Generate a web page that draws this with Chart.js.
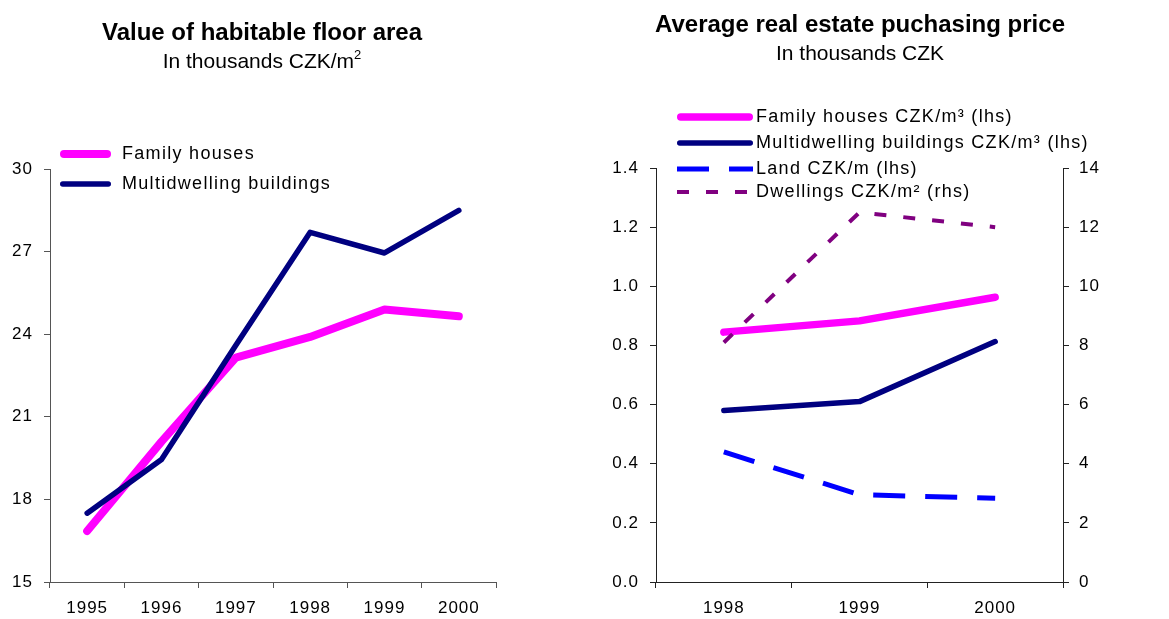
<!DOCTYPE html>
<html><head><meta charset="utf-8">
<script src="https://cdn.jsdelivr.net/npm/chart.js@4.4.0/dist/chart.umd.min.js"></script>
<style>
body{margin:0;background:#fff;width:1169px;height:619px;overflow:hidden;position:relative;font-family:"Liberation Sans",Arial,sans-serif;}
.t{position:absolute;text-align:center;white-space:nowrap;color:#000;}
#c1{position:absolute;left:0;top:0;}
#c2{position:absolute;left:580px;top:0;}
.sup{font-size:13px;position:relative;top:-9px;}
</style></head><body>
<canvas id="c1" width="580" height="619"></canvas>
<canvas id="c2" width="589" height="619"></canvas>
<div class="t" style="left:62px;width:400px;top:20px;font-size:24px;line-height:24px;font-weight:bold;">Value of habitable floor area</div>
<div class="t" style="left:62px;width:400px;top:50px;font-size:21px;line-height:21px;">In thousands CZK/m<span class="sup">2</span></div>
<div class="t" style="left:610px;width:500px;top:12px;font-size:24px;line-height:24px;font-weight:bold;">Average real estate puchasing price</div>
<div class="t" style="left:610px;width:500px;top:42px;font-size:21px;line-height:21px;">In thousands CZK</div>
<script>
// ---- data ----
const leftYears = ['1995','1996','1997','1998','1999','2000'];
const leftFamily = [16.85, 20.1, 23.15, 23.9, 24.9, 24.65];
const leftMulti = [17.5, 19.45, 23.6, 27.7, 26.95, 28.5];
const leftTicks = [15, 18, 21, 24, 27, 30];

const rightYears = ['1998','1999','2000'];
const rightFamily = [0.845, 0.883, 0.963];
const rightMulti = [0.58, 0.61, 0.813];
const rightLand = [0.44, 0.295, 0.283];
const rightDwell = [8.1, 12.5, 12.0];
const rightLeftTicks = [0, 0.2, 0.4, 0.6, 0.8, 1.0, 1.2, 1.4];
const rightRightTicks = [0, 2, 4, 6, 8, 10, 12, 14];

const FONT = '"Liberation Sans", Arial, sans-serif';

const spacingPlugin = {
  id: 'spacing',
  beforeDraw(chart){ chart.ctx.letterSpacing = '1px'; }
};

const legendPlugin = {
  id: 'customLegend',
  afterDraw(chart, args, opts){
    const ctx = chart.ctx;
    ctx.save();
    ctx.font = opts.font;
    ctx.letterSpacing = opts.letterSpacing;
    ctx.textBaseline = 'middle';
    ctx.fillStyle = '#000';
    chart.data.datasets.forEach((ds, i) => {
      const y = opts.ys[i];
      ctx.beginPath();
      ctx.strokeStyle = ds.borderColor;
      ctx.lineWidth = ds.borderWidth;
      ctx.setLineDash(ds.borderDash || []);
      const cap = ds.borderCapStyle || 'butt';
      ctx.lineCap = cap;
      const inset = cap === 'round' ? ds.borderWidth / 2 : 0;
      ctx.moveTo(opts.x0 + inset, y);
      ctx.lineTo(opts.x1 - inset, y);
      ctx.stroke();
      ctx.setLineDash([]);
      ctx.fillText(ds.label, opts.tx, y);
    });
    ctx.restore();
  }
};

function axisX(color){
  return {
    type: 'category', offset: true,
    grid: { display: true, drawOnChartArea: false, drawTicks: true, tickLength: 6, color: color, offset: true },
    border: { display: true, color: color, width: 1 },
    ticks: { font: { family: FONT, size: 17 }, color: '#000', padding: 10, maxRotation: 0, autoSkip: false },
    afterFit(s){ s.height = 37; }
  };
}

new Chart(document.getElementById('c1'), {
  type: 'line',
  data: {
    labels: leftYears,
    datasets: [
      { label: 'Family houses', data: leftFamily, borderColor: '#FF00FF', borderWidth: 8, borderCapStyle: 'round', borderJoinStyle: 'round', pointRadius: 0, order: 2 },
      { label: 'Multidwelling buildings', data: leftMulti, borderColor: '#000080', borderWidth: 5.5, borderCapStyle: 'round', borderJoinStyle: 'round', pointRadius: 0, order: 1 }
    ]
  },
  options: {
    responsive: false, animation: false, events: [],
    layout: { padding: { left: 0, top: 169, right: 84, bottom: 0 } },
    plugins: {
      legend: { display: false }, tooltip: { enabled: false },
      customLegend: { font: '18px ' + FONT, letterSpacing: '1.3px', x0: 60, x1: 111, tx: 122, ys: [154, 184] }
    },
    scales: {
      x: axisX('#555'),
      y: {
        min: 15, max: 30,
        afterBuildTicks(s){ s.ticks = leftTicks.map(v => ({ value: v })); },
        grid: { display: true, drawOnChartArea: false, drawTicks: true, tickLength: 6, color: '#555' },
        border: { display: true, color: '#555', width: 1 },
        ticks: { font: { family: FONT, size: 17 }, color: '#000', padding: 11 },
        afterFit(s){ s.width = 50; }
      }
    }
  },
  plugins: [spacingPlugin, legendPlugin]
});

new Chart(document.getElementById('c2'), {
  type: 'line',
  data: {
    labels: rightYears,
    datasets: [
      { label: 'Family houses CZK/m³ (lhs)', data: rightFamily, yAxisID: 'y', borderColor: '#FF00FF', borderWidth: 7.5, borderCapStyle: 'round', borderJoinStyle: 'round', pointRadius: 0, order: 4 },
      { label: 'Multidwelling buildings CZK/m³ (lhs)', data: rightMulti, yAxisID: 'y', borderColor: '#000080', borderWidth: 5.5, borderCapStyle: 'round', borderJoinStyle: 'round', pointRadius: 0, order: 3 },
      { label: 'Land CZK/m (lhs)', data: rightLand, yAxisID: 'y', borderColor: '#0000FF', borderWidth: 5, borderDash: [32, 20], borderCapStyle: 'butt', pointRadius: 0, order: 2 },
      { label: 'Dwellings CZK/m² (rhs)', data: rightDwell, yAxisID: 'y1', borderColor: '#800080', borderWidth: 4, borderDash: [12, 17], borderCapStyle: 'butt', pointRadius: 0, order: 1 }
    ]
  },
  options: {
    responsive: false, animation: false, events: [],
    layout: { padding: { left: 0, top: 168, right: 0, bottom: 0 } },
    plugins: {
      legend: { display: false }, tooltip: { enabled: false },
      customLegend: { font: '18px ' + FONT, letterSpacing: '1.3px', x0: 97, x1: 173, tx: 176, ys: [117, 143, 169, 192] }
    },
    scales: {
      x: axisX('#222'),
      y: {
        position: 'left', min: 0, max: 1.4,
        afterBuildTicks(s){ s.ticks = rightLeftTicks.map(v => ({ value: v })); },
        grid: { display: true, drawOnChartArea: false, drawTicks: true, tickLength: 6, color: '#222' },
        border: { display: true, color: '#222', width: 1 },
        ticks: { font: { family: FONT, size: 17 }, color: '#000', padding: 11, callback: v => Number(v).toFixed(1) },
        afterFit(s){ s.width = 76; }
      },
      y1: {
        position: 'right', min: 0, max: 14,
        afterBuildTicks(s){ s.ticks = rightRightTicks.map(v => ({ value: v })); },
        grid: { display: true, drawOnChartArea: false, drawTicks: true, tickLength: 6, color: '#222' },
        border: { display: true, color: '#222', width: 1 },
        ticks: { font: { family: FONT, size: 17 }, color: '#000', padding: 10 },
        afterFit(s){ s.width = 106; }
      }
    }
  },
  plugins: [spacingPlugin, legendPlugin]
});
</script>
</body></html>
